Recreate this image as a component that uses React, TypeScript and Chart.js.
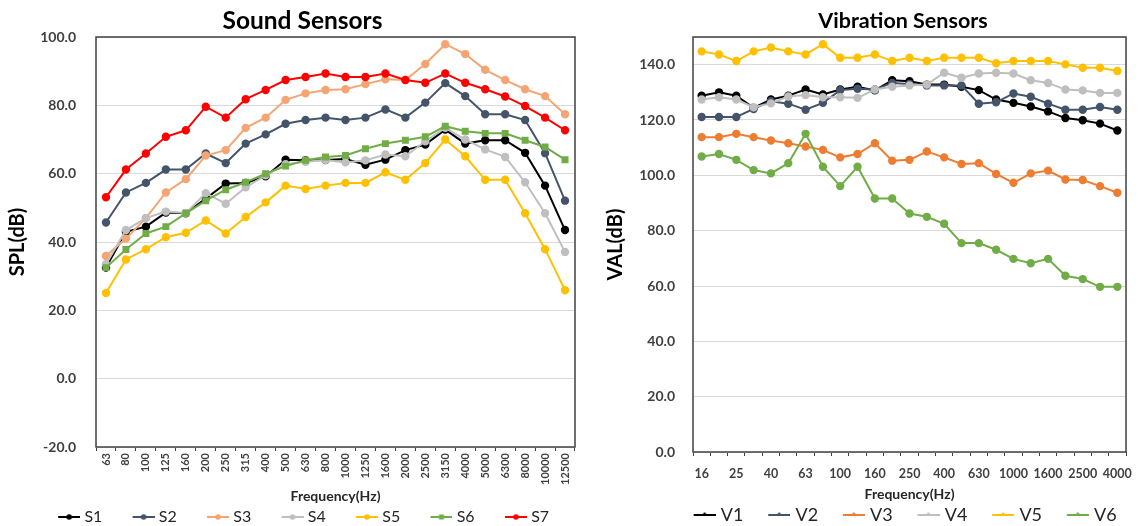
import React, { useEffect, useRef } from 'react';
import { Chart, registerables } from 'chart.js';

Chart.register(...registerables);

// ---------- Sound sensors data ----------
const soundFreqs = ['63', '80', '100', '125', '160', '200', '250', '315', '400', '500', '630', '800', '1000', '1250', '1600', '2000', '2500', '3150', '4000', '5000', '6300', '8000', '10000', '12500'];
const S1 = [32.5, 43, 44.5, 48.6, 48.4, 52.7, 57.1, 57.3, 59.2, 64.1, 63.9, 64, 64.3, 62.6, 64.1, 66.9, 68.5, 72.9, 68.8, 69.8, 69.8, 66.1, 56.5, 43.5];
const S2 = [45.7, 54.5, 57.3, 61.2, 61.2, 65.9, 63.1, 68.8, 71.5, 74.6, 75.7, 76.4, 75.7, 76.4, 78.8, 76.4, 80.8, 86.5, 82.7, 77.4, 77.4, 75.7, 66, 52.1];
const S3 = [35.9, 41, 47, 54.5, 58.4, 65.3, 66.9, 73.4, 76.4, 81.6, 83.5, 84.5, 84.7, 86.2, 87.6, 87.4, 92.1, 97.9, 95, 90.4, 87.4, 84.7, 82.7, 77.4];
const S4 = [33.5, 43.5, 47, 48.9, 48.5, 54.3, 51.2, 56, 59.5, 62.8, 63.5, 64, 63.3, 63.9, 65.6, 65.1, 69.5, 73.4, 70, 67.1, 64.9, 57.5, 48.4, 37.1];
const S5 = [25.1, 34.9, 37.9, 41.4, 42.7, 46.3, 42.5, 47.3, 51.6, 56.5, 55.5, 56.5, 57.3, 57.3, 60.4, 58.2, 63.1, 70, 65.1, 58.2, 58.2, 48.4, 37.9, 25.9];
const S6 = [32.5, 37.8, 42.5, 44.5, 48.4, 52.1, 55.3, 57.5, 60, 62.2, 63.9, 64.9, 65.3, 67.3, 68.8, 69.8, 70.8, 73.9, 72.4, 71.8, 71.8, 69.8, 67.8, 64.1];
const S7 = [53.1, 61.2, 65.9, 70.8, 72.7, 79.6, 76.4, 81.8, 84.5, 87.4, 88.3, 89.3, 88.3, 88.3, 89.3, 87.4, 86.6, 89.3, 86.6, 84.7, 82.6, 79.8, 76.4, 72.7];
const soundNames = ['S1', 'S2', 'S3', 'S4', 'S5', 'S6', 'S7'];
const soundSeries = [S1, S2, S3, S4, S5, S6, S7];
const soundMin = -20;
const soundMax = 100;
const soundStep = 20;

// ---------- Vibration sensors data ----------
const vibFreqs = ['16', '20', '25', '31.5', '40', '50', '63', '80', '100', '125', '160', '200', '250', '315', '400', '500', '630', '800', '1000', '1250', '1600', '2000', '2500', '3150', '4000'];
const V1 = [128.8, 130, 128.8, 124.4, 127.4, 128.8, 131, 129.2, 131, 132, 130.7, 134.4, 134, 132.8, 132.8, 132, 130.8, 127.4, 126.2, 124.9, 123.1, 120.7, 119.9, 118.7, 116.2];
const V2 = [121.1, 121.1, 121.1, 124, 126.8, 125.9, 123.7, 126.2, 130.8, 131.3, 131, 133.4, 133, 132.5, 132.5, 132.5, 125.9, 126.4, 129.6, 128.4, 125.9, 123.7, 123.7, 124.7, 123.7];
const V3 = [113.8, 113.8, 115, 113.8, 112.6, 111.6, 110.4, 109.2, 106.5, 107.7, 111.6, 105.3, 105.6, 108.6, 106.5, 104.1, 104.4, 100.5, 97.3, 100.7, 101.7, 98.5, 98.3, 96.1, 93.7];
const V4 = [127.4, 128.2, 127.4, 124.6, 126, 128.5, 129, 128.2, 128.2, 128, 131, 132, 132.5, 132.8, 137.1, 135.3, 136.8, 137.1, 136.8, 134.4, 133.4, 131, 130.7, 129.8, 129.8];
const V5 = [144.8, 143.7, 141.3, 144.8, 146.2, 144.8, 143.7, 147.4, 142.5, 142.5, 143.7, 141.3, 142.5, 141.3, 142.5, 142.5, 142.5, 140.5, 141.3, 141.3, 141.3, 140.1, 138.9, 138.9, 137.7];
const V6 = [106.8, 107.7, 105.6, 101.9, 100.7, 104.4, 115, 103.1, 96.1, 103.1, 91.6, 91.6, 86.2, 85, 82.5, 75.5, 75.5, 73.1, 69.8, 68.2, 69.8, 63.7, 62.5, 59.7, 59.7];
const vibNames = ['V1', 'V2', 'V3', 'V4', 'V5', 'V6'];
const vibSeries = [V1, V2, V3, V4, V5, V6];
const vibMin = 0;
const vibMax = 150;
const vibStep = 20;

// ---------- styles ----------
const soundColors = ['#000000', '#44546A', '#F4A573', '#BFBFBF', '#FFC000', '#70AD47', '#FF0000'];
const soundShapes = ['circle', 'circle', 'circle', 'circle', 'circle', 'rect', 'circle'];
const vibColors = ['#000000', '#44546A', '#ED7D31', '#BFBFBF', '#FFC000', '#70AD47'];
const FONT = 'Lato, "Open Sans", sans-serif';

function markerImage(color: string, shape: string, kind: 'dot' | 'tri', boxW: number) {
  const c = document.createElement('canvas');
  const w = Math.round(boxW + 7);
  c.width = w;
  c.height = 10;
  const ctx = c.getContext('2d')!;
  const x0 = w - 22;
  const cx = w - 11;
  ctx.strokeStyle = color;
  ctx.fillStyle = color;
  ctx.lineWidth = 2;
  ctx.beginPath();
  ctx.moveTo(x0, 5);
  ctx.lineTo(w, 5);
  ctx.stroke();
  ctx.beginPath();
  if (kind === 'tri') {
    ctx.moveTo(cx - 3.5, 6);
    ctx.lineTo(cx, 2);
    ctx.lineTo(cx + 3.5, 6);
    ctx.closePath();
  } else if (shape === 'rect') {
    ctx.rect(cx - 2.5, 2.5, 5, 5);
  } else {
    ctx.arc(cx, 5, 2.8, 0, Math.PI * 2);
  }
  ctx.fill();
  return c;
}

const framePlugin = {
  id: 'plotFrame',
  beforeDatasetsDraw(chart: any) {
    const { ctx, chartArea } = chart;
    ctx.save();
    ctx.strokeStyle = '#404040';
    ctx.lineWidth = 1.5;
    ctx.strokeRect(chartArea.left, chartArea.top, chartArea.right - chartArea.left, chartArea.bottom - chartArea.top);
    ctx.restore();
  },
};

function legendShift(dy: number) {
  return {
    id: 'legendShift',
    afterLayout(chart: any) {
      const lg = chart.legend;
      if (lg && dy) {
        lg.top += dy;
        lg.bottom += dy;
      }
    },
  };
}

function buildConfig(opts: {
  title: string;
  titleSize: number;
  titlePad: any;
  yTitle: string;
  labels: string[];
  names: string[];
  series: number[][];
  colors: string[];
  shapes: string[];
  markerKind: 'dot' | 'tri';
  min: number;
  max: number;
  step: number;
  layoutPad: any;
  yWidth: number;
  rightWidth: number;
  yTickPad: number;
  yTitlePad: number;
  xHeight: number;
  xTitlePad: number;
  xTicks: any;
  legendFont: number;
  legendPad: number;
  legendBox: number;
  legendDy: number;
}): any {
  const n = opts.series.length;
  const markers = opts.names.map((_, i) => markerImage(opts.colors[i], opts.shapes[i], opts.markerKind, opts.legendBox));
  return {
    type: 'line',
    data: {
      labels: opts.labels,
      datasets: opts.series.map((d, i) => ({
        label: opts.names[i],
        data: d,
        borderColor: opts.colors[i],
        backgroundColor: opts.colors[i],
        pointBackgroundColor: opts.colors[i],
        pointBorderColor: opts.colors[i],
        pointStyle: opts.shapes[i],
        pointRadius: opts.shapes[i] === 'rect' ? 3.5 : 3.2,
        borderWidth: 2,
        tension: 0,
        order: n - i,
        yAxisID: 'y',
      })),
    },
    options: {
      responsive: false,
      animation: false,
      layout: { padding: opts.layoutPad },
      plugins: {
        title: {
          display: true,
          text: opts.title,
          color: '#000000',
          font: { family: FONT, size: opts.titleSize, weight: 'bold' },
          padding: opts.titlePad,
        },
        legend: {
          display: true,
          position: 'bottom',
          labels: {
            usePointStyle: true,
            pointStyleWidth: opts.legendBox,
            padding: opts.legendPad,
            color: '#262626',
            font: { family: FONT, size: opts.legendFont },
            sort: (a: any, b: any) => a.datasetIndex - b.datasetIndex,
            generateLabels: (chart: any) => {
              const base = (Chart.defaults as any).plugins.legend.labels.generateLabels(chart);
              return base.map((it: any) => ({
                ...it,
                pointStyle: markers[it.datasetIndex],
                lineWidth: 0,
              }));
            },
          },
        },
        tooltip: { enabled: false },
      },
      scales: {
        x: {
          type: 'category',
          offset: true,
          grid: { offset: true, drawOnChartArea: false, drawTicks: true, tickLength: 4, color: '#404040' },
          border: { display: false },
          ticks: opts.xTicks,
          title: {
            display: true,
            text: 'Frequency(Hz)',
            color: '#262626',
            font: { family: FONT, size: 14, weight: 'bold' },
            padding: { top: 0, bottom: opts.xTitlePad },
          },
          afterFit: (s: any) => {
            s.height = opts.xHeight;
          },
        },
        y: {
          min: opts.min,
          max: opts.max,
          grid: { color: '#D9D9D9', lineWidth: 1, drawTicks: false },
          border: { display: false },
          ticks: {
            stepSize: opts.step,
            padding: opts.yTickPad,
            color: '#404040',
            font: { family: FONT, size: 14, weight: 'bold' },
            callback: (v: any) => (Number(v) % opts.step === 0 ? Number(v).toFixed(1) : ''),
          },
          title: {
            display: true,
            text: opts.yTitle,
            color: '#000000',
            font: { family: FONT, size: 20, weight: 'bold' },
            padding: { top: opts.yTitlePad, bottom: 0 },
          },
          afterFit: (s: any) => {
            s.width = opts.yWidth;
          },
        },
        spacer: {
          type: 'linear',
          position: 'right',
          display: true,
          grid: { display: false },
          border: { display: false },
          ticks: { display: false },
          afterFit: (s: any) => {
            s.width = opts.rightWidth;
          },
        },
      },
    },
    plugins: [framePlugin, legendShift(opts.legendDy)],
  };
}

export default function App() {
  const leftRef = useRef<HTMLCanvasElement>(null);
  const rightRef = useRef<HTMLCanvasElement>(null);

  useEffect(() => {
    const left = new Chart(
      leftRef.current!,
      buildConfig({
        title: 'Sound Sensors',
        titleSize: 24.5,
        titlePad: { top: 6, bottom: 1.6 },
        yTitle: 'SPL(dB)',
        labels: soundFreqs,
        names: soundNames,
        series: soundSeries,
        colors: soundColors,
        shapes: soundShapes,
        markerKind: 'dot',
        min: soundMin,
        max: soundMax,
        step: soundStep,
        layoutPad: { left: 10, right: 0, top: 0, bottom: -22 },
        yWidth: 86,
        rightWidth: 20,
        yTickPad: 20,
        yTitlePad: -4,
        xHeight: 47,
        xTitlePad: -10.4,
        xTicks: {
          autoSkip: false,
          minRotation: 90,
          maxRotation: 90,
          padding: 2,
          color: '#404040',
          font: { family: FONT, size: 11, weight: 'bold' },
        },
        legendFont: 16,
        legendPad: 28,
        legendBox: 20.5,
        legendDy: -13,
      })
    );
    const right = new Chart(
      rightRef.current!,
      buildConfig({
        title: 'Vibration Sensors',
        titleSize: 21.5,
        titlePad: { top: 8, bottom: 3.2 },
        yTitle: 'VAL(dB)',
        labels: vibFreqs,
        names: vibNames,
        series: vibSeries,
        colors: vibColors,
        shapes: vibNames.map(() => 'circle'),
        markerKind: 'tri',
        min: vibMin,
        max: vibMax,
        step: vibStep,
        layoutPad: { left: 37, right: -32, top: 0, bottom: -8 },
        yWidth: 61,
        rightWidth: 39,
        yTickPad: 18,
        yTitlePad: -28,
        xHeight: 33.5,
        xTitlePad: -16.9,
        xTicks: {
          autoSkip: false,
          maxRotation: 0,
          minRotation: 0,
          padding: 10,
          color: '#404040',
          font: { family: FONT, size: 12.5, weight: 'bold' },
          callback: (_v: any, i: number) => (i % 2 === 0 ? vibFreqs[i] : ''),
        },
        legendFont: 18,
        legendPad: 20.5,
        legendBox: 22.5,
        legendDy: 0,
      })
    );
    return () => {
      left.destroy();
      right.destroy();
    };
  }, []);

  return (
    <div style={{ position: 'fixed', left: 0, top: 0, width: 1142, height: 526, background: '#ffffff', overflow: 'hidden' }}>
      <canvas ref={leftRef} width={595} height={526} style={{ position: 'absolute', left: 0, top: 0 }} />
      <canvas ref={rightRef} width={547} height={526} style={{ position: 'absolute', left: 595, top: 0 }} />
    </div>
  );
}
